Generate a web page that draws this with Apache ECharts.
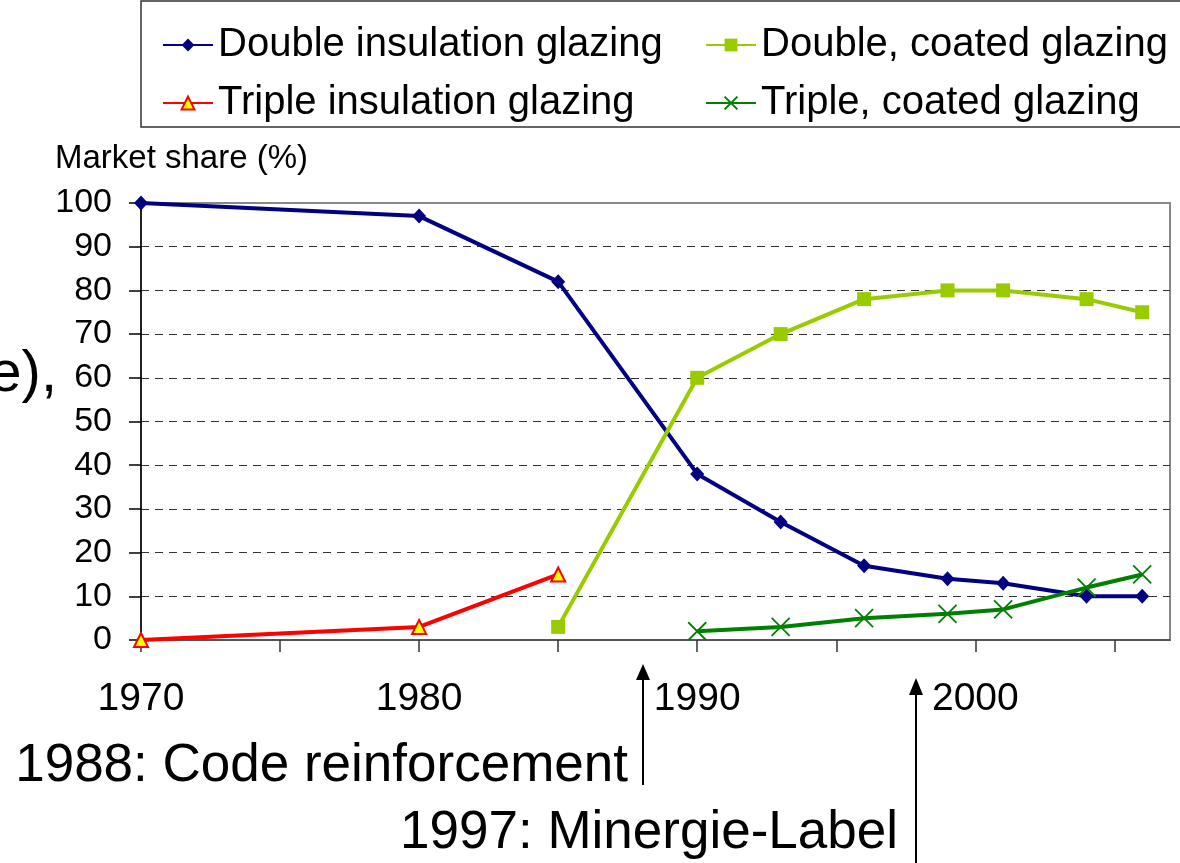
<!DOCTYPE html>
<html>
<head>
<meta charset="utf-8">
<script src="https://cdn.jsdelivr.net/npm/echarts@6/dist/echarts.min.js"></script>
<style>
  html, body { margin: 0; padding: 0; background: #fff; }
  #chart { width: 1180px; height: 863px; }
</style>
</head>
<body>
<div id="chart"></div>
<script>
// years where a survey value exists
const years = [1970, 1980, 1985, 1990, 1993, 1996, 1999, 2001, 2004, 2006]
// market share in %, null = no value that year
const doubleInsulation = [100, 97, 82, 38, 27, 17, 14, 13, 10, 10]
const doubleCoated = [null, null, 3, 60, 70, 78, 80, 80, 78, 75]
const tripleInsulation = [0, 3, 15, null, null, null, null, null, null, null]
const tripleCoated = [null, null, null, 2, 3, 5, 6, 7, 12, 15]

const xTicks = [1970, 1975, 1980, 1985, 1990, 1995, 2000, 2005]
const xLabels = [1970, 1980, 1990, 2000]

const FONT = "'Liberation Sans', Arial, Helvetica, sans-serif"

function pairs (arr) {
    return years.map((y, i) => [y, arr[i]]).filter(p => p[1] !== null)
}

const chart = echarts.init(document.getElementById('chart'))

const legendBase = {
    orient: 'vertical',
    top: 20,
    itemWidth: 50,
    itemHeight: 16,
    itemGap: 18,
    textStyle: { fontSize: 40, color: '#000', fontFamily: FONT }
}

const option = {
    animation: false,
    backgroundColor: '#fff',
    textStyle: { fontFamily: FONT },
    legend: [
        Object.assign({ left: 157, data: ['Double insulation glazing', 'Triple insulation glazing'] }, legendBase),
        Object.assign({ left: 700, data: ['Double, coated glazing', 'Triple, coated glazing'] }, legendBase)
    ],
    grid: {
        show: true,
        left: 141,
        right: 10,
        top: 203,
        bottom: 223,
        borderColor: '#888',
        borderWidth: 2
    },
    xAxis: {
        type: 'value',
        min: 1970,
        max: 2007,
        axisLine: { show: true, onZero: false, lineStyle: { color: '#444', width: 1.5 } },
        axisTick: { show: true, customValues: xTicks, length: 12, lineStyle: { color: '#333', width: 1.5 } },
        axisLabel: {
            customValues: xLabels,
            formatter: v => String(v),
            fontSize: 39,
            color: '#000',
            margin: 40,
            fontFamily: FONT
        },
        splitLine: { show: false }
    },
    yAxis: {
        type: 'value',
        min: 0,
        max: 100,
        interval: 10,
        axisLine: { show: true, lineStyle: { color: '#000', width: 1.5 } },
        axisTick: { show: true, length: 12, lineStyle: { color: '#000', width: 1.5 } },
        axisLabel: { fontSize: 34, color: '#000', margin: 29, fontFamily: FONT },
        splitLine: {
            show: true,
            showMinLine: false,
            showMaxLine: false,
            lineStyle: { color: '#333', width: 1, type: [8, 6] }
        }
    },
    series: [
        {
            name: 'Double insulation glazing',
            type: 'line',
            data: pairs(doubleInsulation),
            symbol: 'diamond',
            symbolSize: [14, 15],
            lineStyle: { color: '#000080', width: 4 },
            itemStyle: { color: '#000080' }
        },
        {
            name: 'Double, coated glazing',
            type: 'line',
            data: pairs(doubleCoated),
            symbol: 'rect',
            symbolSize: 14,
            lineStyle: { color: '#99cc00', width: 4 },
            itemStyle: { color: '#99cc00' }
        },
        {
            name: 'Triple insulation glazing',
            type: 'line',
            data: pairs(tripleInsulation),
            symbol: 'triangle',
            symbolSize: 14,
            lineStyle: { color: '#ff0000', width: 4 },
            itemStyle: { color: '#ffff00', borderColor: '#ff0000', borderWidth: 2 }
        },
        {
            name: 'Triple, coated glazing',
            type: 'line',
            data: pairs(tripleCoated),
            symbol: 'path://M0,0L10,10M10,0L0,10',
            symbolSize: 18,
            lineStyle: { color: '#008000', width: 4 },
            itemStyle: { color: '#008000', borderColor: '#008000', borderWidth: 1.8 }
        }
    ],
    graphic: [
        // legend frame (runs off the right edge like the original)
        {
            type: 'rect',
            shape: { x: 141, y: 1, width: 1200, height: 126 },
            style: { fill: 'none', stroke: '#333', lineWidth: 1.5 },
            silent: true
        },
        {
            type: 'text',
            x: 55, y: 159,
            style: { text: 'Market share (%)', fontSize: 33, fontFamily: FONT, fill: '#000', align: 'left', verticalAlign: 'middle' }
        },
        {
            type: 'text',
            x: 57, y: 375,
            style: { text: 'e),', fontSize: 58, fontFamily: FONT, fill: '#000', align: 'right', verticalAlign: 'middle' }
        },
        {
            type: 'text',
            x: 628, y: 766,
            style: { text: '1988: Code reinforcement', fontSize: 53, fontFamily: FONT, fill: '#000', align: 'right', verticalAlign: 'middle' }
        },
        {
            type: 'text',
            x: 898, y: 833,
            style: { text: '1997: Minergie-Label', fontSize: 53, fontFamily: FONT, fill: '#000', align: 'right', verticalAlign: 'middle' }
        },
        // arrows
        {
            type: 'line',
            shape: { x1: 643, y1: 785, x2: 643, y2: 676 },
            style: { stroke: '#000', lineWidth: 2 }
        },
        {
            type: 'polygon',
            shape: { points: [[643, 664], [636, 680], [650, 680]] },
            style: { fill: '#000' }
        },
        {
            type: 'line',
            shape: { x1: 916, y1: 863, x2: 916, y2: 690 },
            style: { stroke: '#000', lineWidth: 2 }
        },
        {
            type: 'polygon',
            shape: { points: [[916, 678], [909, 695], [923, 695]] },
            style: { fill: '#000' }
        }
    ]
}

chart.setOption(option)
</script>
</body>
</html>
